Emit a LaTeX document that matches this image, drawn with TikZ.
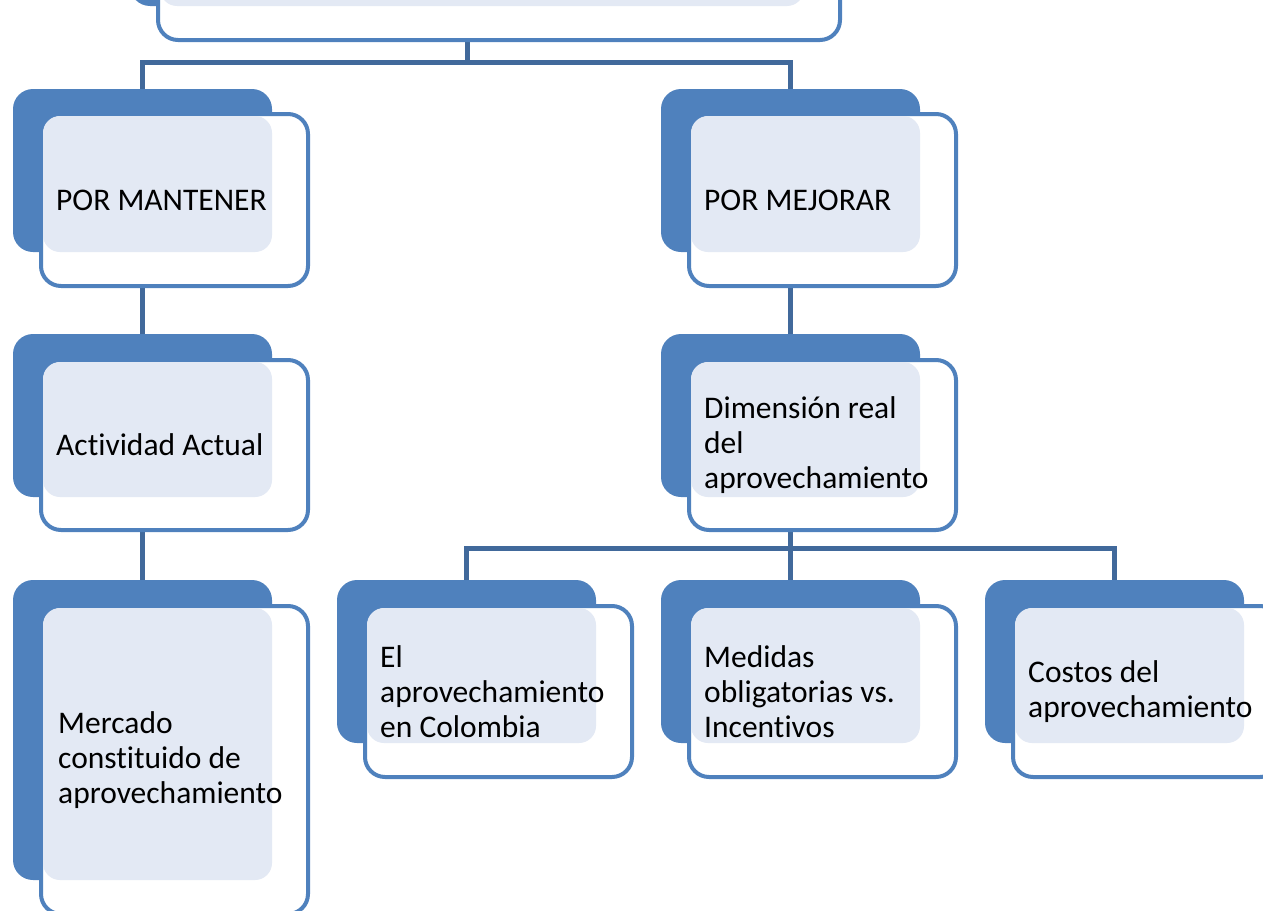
\documentclass[tikz,border=0pt]{standalone}
\usepackage{fontspec}
\setmainfont{Carlito}[Ligatures=NoCommon]
\usetikzlibrary{positioning,backgrounds}
\definecolor{boxblue}{RGB}{79,129,189}
\definecolor{linkblue}{RGB}{65,105,155}
\definecolor{dotblue}{RGB}{227,233,244}
\tikzset{x=1pt,y=-1pt}
\tikzset{backbox/.style={shape=rectangle, fill=boxblue, rounded corners=20, inner sep=0, outer sep=0}}
\tikzset{frontbox/.style={shape=rectangle, draw=boxblue, fill=white, line width=4, rounded corners=20,
    inner sep=0, anchor=north west}}
\tikzset{dotfill/.style={fill=dotblue, rounded corners=17}}
\tikzset{boxtext/.style={anchor=west, inner sep=0, align=left, font=\fontsize{31.5}{35}\selectfont}}
\tikzset{link/.style={draw=linkblue, line width=5}}

\begin{document}
\begin{tikzpicture}
    \useasboundingbox (0,0) rectangle (1263,910);
    \clip (0,0) rectangle (1263,910);

    \node(raiz)[frontbox, minimum width=682, minimum height=172] at (156,-134) {};
    \node(mant)[frontbox, minimum width=267, minimum height=172] at (39,112)   {};
    \node(mejo)[frontbox, minimum width=267, minimum height=172] at (687,112)  {};
    \node(acti)[frontbox, minimum width=267, minimum height=170] at (39,358)   {};
    \node(dime)[frontbox, minimum width=267, minimum height=170] at (687,358)  {};
    \node(merc)[frontbox, minimum width=267, minimum height=308] at (39,604)   {};
    \node(colo)[frontbox, minimum width=267, minimum height=171] at (363,604)  {};
    \node(medi)[frontbox, minimum width=267, minimum height=171] at (687,604)  {};
    \node(cost)[frontbox, minimum width=267, minimum height=171] at (1011,604) {};

    \begin{scope}[on background layer]
    \node(raiz-b)[backbox, anchor=north west, minimum width=674, minimum height=163] at ([shift={(-26,-23)}]raiz.north west) {};
    \node(mant-b)[backbox, anchor=north west, minimum width=259, minimum height=163] at ([shift={(-26,-23)}]mant.north west) {};
    \node(mejo-b)[backbox, anchor=north west, minimum width=259, minimum height=163] at ([shift={(-26,-23)}]mejo.north west) {};
    \node(acti-b)[backbox, anchor=north west, minimum width=259, minimum height=163] at ([shift={(-26,-24)}]acti.north west) {};
    \node(dime-b)[backbox, anchor=north west, minimum width=259, minimum height=163] at ([shift={(-26,-24)}]dime.north west) {};
    \node(merc-b)[backbox, anchor=north west, minimum width=259, minimum height=300] at ([shift={(-26,-24)}]merc.north west) {};
    \node(colo-b)[backbox, anchor=north west, minimum width=259, minimum height=163] at ([shift={(-26,-24)}]colo.north west) {};
    \node(medi-b)[backbox, anchor=north west, minimum width=259, minimum height=163] at ([shift={(-26,-24)}]medi.north west) {};
    \node(cost-b)[backbox, anchor=north west, minimum width=259, minimum height=163] at ([shift={(-26,-24)}]cost.north west) {};

    \draw [link] (raiz-b.south) -- ++(0,56) -| (mant-b.north);
    \draw [link] (raiz-b.south) -- ++(0,56) -| (mejo-b.north);
    \draw [link] (mant-b.south) -- (acti-b.north);
    \draw [link] (acti-b.south) -- (merc-b.north);
    \draw [link] (mejo-b.south) -- (dime-b.north);
    \draw [link] (dime-b.south) -- ++(0,51) -| (colo-b.north);
    \draw [link] (dime-b.south) -- ++(0,51) -| (medi-b.north);
    \draw [link] (dime-b.south) -- ++(0,51) -| (cost-b.north);
    \end{scope}

    % dotted inner area
    \foreach \n in {raiz,mant,mejo,acti,dime,merc,colo,medi,cost}
        \fill [dotfill] ([shift={(4,4)}]\n.north west) rectangle (\n-b.south east);

    \node(mant-t)[boxtext] at ([xshift=17]mant.west) {POR MANTENER};
    \node(mejo-t)[boxtext] at ([xshift=17]mejo.west) {POR MEJORAR};
    \node(acti-t)[boxtext] at ([xshift=17]acti.west) {Actividad Actual};
    \node(dime-t)[boxtext] at ([xshift=17]dime.west) {Dimensión real\\del\\aprovechamiento};
    \node(merc-t)[boxtext] at ([xshift=19]merc.west) {Mercado\\constituido de\\aprovechamiento};
    \node(colo-t)[boxtext] at ([xshift=17]colo.west) {El\\aprovechamiento\\en Colombia};
    \node(medi-t)[boxtext] at ([xshift=17]medi.west) {Medidas\\obligatorias vs.\\Incentivos};
    \node(cost-t)[boxtext] at ([xshift=17]cost.west) {Costos del\\aprovechamiento};
\end{tikzpicture}
\end{document}
